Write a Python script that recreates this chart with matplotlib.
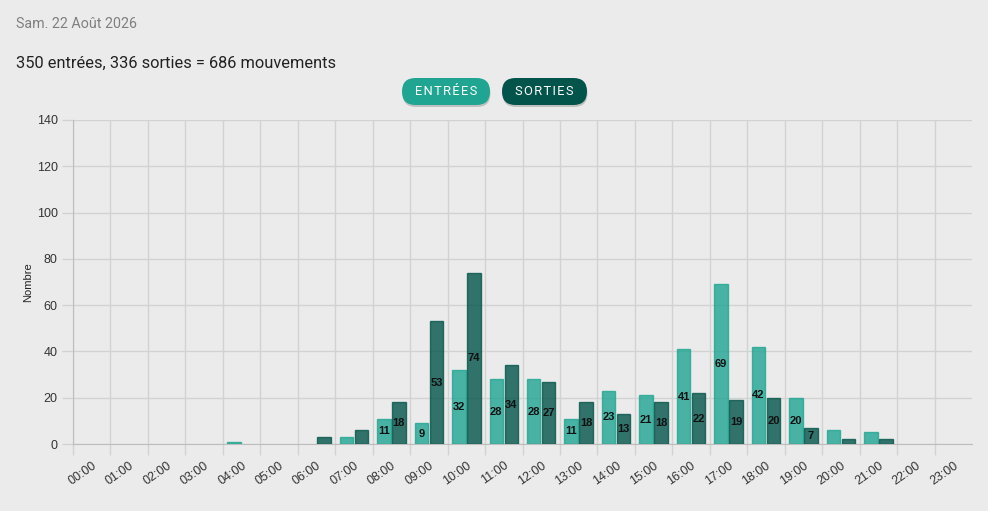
import numpy as np
import matplotlib.pyplot as plt
from matplotlib.patches import FancyBboxPatch

# donnees
heures = ["00:00", "01:00", "02:00", "03:00", "04:00", "05:00", "06:00", "07:00",
          "08:00", "09:00", "10:00", "11:00", "12:00", "13:00", "14:00", "15:00",
          "16:00", "17:00", "18:00", "19:00", "20:00", "21:00", "22:00", "23:00"]
entrees = [0, 0, 0, 0, 1, 0, 0, 3, 11, 9, 32, 28, 28, 11, 23, 21, 41, 69, 42, 20, 6, 5, 0, 0]
sorties = [0, 0, 0, 0, 0, 0, 3, 6, 18, 53, 74, 34, 27, 18, 13, 18, 22, 19, 20, 7, 2, 2, 0, 0]
date_txt = "Sam. 22 Août 2026"

BG = "#ebebeb"
GRID = "#d2d2d2"
AXC = "#bdbdbd"
C_ENT = "#1fa592"
C_SOR = "#03544a"

fig = plt.figure(figsize=(9.88, 5.11), dpi=100, facecolor=BG)

# overlay en pixels pour l'entete et les boutons
top = fig.add_axes([0, 0, 1, 1], zorder=0)
top.set_xlim(0, 988)
top.set_ylim(511, 0)
top.axis("off")
top.set_facecolor(BG)

top.text(16, 24, date_txt, fontsize=10.3, color="#7f7f7f", family="Roboto", va="center")
total = sum(entrees) + sum(sorties)
top.text(16, 63, "{} entrées, {} sorties = {} mouvements".format(sum(entrees), sum(sorties), total),
         fontsize=11.8, color="#222222", family="Roboto", va="center")

for (x0, w, lab, col) in [(402, 88, "ENTRÉES", C_ENT), (502, 85, "SORTIES", C_SOR)]:
    shadow = FancyBboxPatch((x0 + 0.5, 80), w, 27, boxstyle="round,pad=0,rounding_size=13.5",
                            fc="#000000", ec="none", alpha=0.18)
    top.add_patch(shadow)
    btn = FancyBboxPatch((x0, 78), w, 27, boxstyle="round,pad=0,rounding_size=13.5",
                         fc=col, ec="none")
    top.add_patch(btn)
    top.text(x0 + w / 2, 91.5, "\u200a".join(lab), fontsize=9.3, color="white",
             family="Roboto", ha="center", va="center")

# graphique
ax = fig.add_axes([73 / 988, 67 / 511, 899 / 988, 324 / 511], zorder=1)
ax.set_facecolor(BG)
x = np.arange(len(heures))
bw = 0.36
lw1 = [1 if v > 0 else 0 for v in entrees]
lw2 = [1 if v > 0 else 0 for v in sorties]
b1 = ax.bar(x - 0.2, entrees, bw, color=C_ENT, alpha=0.8, edgecolor=C_ENT, linewidth=lw1, zorder=3)
b2 = ax.bar(x + 0.2, sorties, bw, color=C_SOR, alpha=0.8, edgecolor=C_SOR, linewidth=lw2, zorder=3)

lab1 = [str(v) if v >= 7 else "" for v in entrees]
lab2 = [str(v) if v >= 7 else "" for v in sorties]
ax.bar_label(b1, labels=lab1, label_type="center", fontsize=8, fontweight="bold",
             color="#111111", family="Liberation Sans", zorder=4)
ax.bar_label(b2, labels=lab2, label_type="center", fontsize=8, fontweight="bold",
             color="#111111", family="Liberation Sans", zorder=4)

ax.set_xlim(-0.5, 23.5)
ax.set_ylim(0, 140)
ax.set_yticks(np.arange(0, 141, 20))
ax.set_xticks(x)
ax.set_xticklabels(heures, rotation=35, ha="right", va="top", rotation_mode="anchor",
                   family="Liberation Sans", fontsize=9, color="#333333")
ax.set_xticks(np.arange(-0.5, 23, 1), minor=True)
ax.tick_params(axis="x", which="major", length=0, pad=11)
ax.tick_params(axis="x", which="minor", length=8, color=GRID, width=1)
ax.tick_params(axis="y", length=8, color=GRID, width=1, pad=3, labelsize=9, labelcolor="#333333")
for t in ax.get_yticklabels():
    t.set_family("Liberation Sans")

ax.grid(True, which="minor", axis="x", color=GRID, linewidth=1, zorder=0)
ax.grid(True, which="major", axis="y", color=GRID, linewidth=1, zorder=0)
for s in ["top", "right"]:
    ax.spines[s].set_visible(False)
ax.spines["left"].set_color(AXC)
ax.spines["bottom"].set_color(AXC)

ax.set_ylabel("Nombre", fontsize=8, family="Liberation Sans", color="#222222")
ax.yaxis.set_label_coords(-40 / 899, 0.5)

fig.savefig("out.png", dpi=100, facecolor=BG)
